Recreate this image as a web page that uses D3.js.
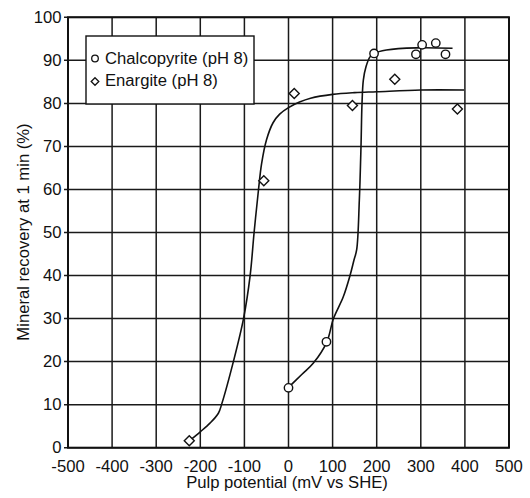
<!DOCTYPE html>
<html><head><meta charset="utf-8">
<script src="https://cdn.jsdelivr.net/npm/d3@7"></script>
<style>body{margin:0;background:#fff}svg{display:block}text{font-family:"Liberation Sans",Arial,Helvetica,sans-serif;fill:#111}</style>
</head><body><svg id="c" width="530" height="498"></svg>
<script>
const xTicks = [-500,-400,-300,-200,-100,0,100,200,300,400,500];
const yTicks = [0,10,20,30,40,50,60,70,80,90,100];
const chalcoX = [0, 86, 194, 289, 303, 334, 356];
const chalcoY = [13.9, 24.6, 91.6, 91.4, 93.6, 94.0, 91.4];
const enargX = [-225, -56, 13, 145, 241, 383];
const enargY = [1.6, 62.0, 82.3, 79.5, 85.6, 78.7];
const chalcoCurveX = [0, 30, 56, 87, 102, 124, 139.5, 148.5, 154.6, 160.6, 164.4, 166.7, 169.7, 175.7, 184.8, 194, 222, 290, 372];
const chalcoCurveY = [14, 17, 19.6, 24.6, 30, 35, 40, 43.6, 46, 57.5, 70, 80, 85.4, 88.5, 90.8, 91.6, 92.4, 92.9, 92.8];
const enargCurveX = [-225, -200, -178, -159, -151, -125, -102, -87, -78, -68, -61, -50, -35, -20, 0, 25, 50, 100, 150, 200, 300, 398];
const enargCurveY = [1.6, 3.7, 5.7, 8, 10.3, 20, 30, 40, 50, 60, 66, 71.5, 75.5, 77.5, 79, 80.3, 81.2, 82.1, 82.5, 82.7, 83.1, 83.1];
const legendLabels = ["Chalcopyrite (pH 8)", "Enargite (pH 8)"];
const xTitle = "Pulp potential (mV vs SHE)";
const yTitle = "Mineral recovery at 1 min (%)";

const svg = d3.select("#c");
const x = d3.scaleLinear().domain([-500,500]).range([68,509]);
const y = d3.scaleLinear().domain([0,100]).range([447.7,17.3]);
const stretch = 1.04;
function widen(sel){ sel.each(function(){ const l=this.getComputedTextLength(); d3.select(this).attr("textLength", l*stretch).attr("lengthAdjust","spacingAndGlyphs"); }); }

// grid
const g = svg.append("g").attr("stroke","#1a1a1a").attr("stroke-width",1.5);
g.selectAll(".vx").data(xTicks).join("line").attr("x1",d=>x(d)).attr("x2",d=>x(d)).attr("y1",y(0)).attr("y2",y(100));
g.selectAll(".hy").data(yTicks).join("line").attr("x1",x(-500)-4).attr("x2",x(500)).attr("y1",d=>y(d)).attr("y2",d=>y(d));
svg.append("rect").attr("x",x(-500)).attr("y",y(100)).attr("width",x(500)-x(-500)).attr("height",y(0)-y(100)).attr("fill","none").attr("stroke","#111").attr("stroke-width",2);

// axes labels
const fs = 16;
svg.append("g").selectAll("text").data(xTicks).join("text").attr("x",d=>x(d)).attr("y",471.5).attr("text-anchor","middle").attr("font-size",fs).text(d=>d).call(widen);
svg.append("g").selectAll("text").data(yTicks).join("text").attr("x",61.5).attr("y",d=>y(d)+5.7).attr("text-anchor","end").attr("font-size",fs).text(d=>d).call(widen);
svg.append("text").attr("x",287).attr("y",488).attr("text-anchor","middle").attr("font-size",fs).text(xTitle).call(widen);
svg.append("text").attr("transform","translate(28.5,232) rotate(-90)").attr("text-anchor","middle").attr("font-size",fs).text(yTitle).call(widen);

// curves
const line = d3.line().x(d=>x(d[0])).y(d=>y(d[1])).curve(d3.curveCatmullRom.alpha(0.5));
svg.append("path").attr("d",line(enargCurveX.map((v,i)=>[v,enargCurveY[i]]))).attr("fill","none").attr("stroke","#111").attr("stroke-width",1.6);
svg.append("path").attr("d",line(chalcoCurveX.map((v,i)=>[v,chalcoCurveY[i]]))).attr("fill","none").attr("stroke","#111").attr("stroke-width",1.6);

// points
const diamond = (cx,cy,r)=>`M${cx},${cy-r}L${cx+r},${cy}L${cx},${cy+r}L${cx-r},${cy}Z`;
svg.append("g").selectAll("path").data(enargX.map((v,i)=>[v,enargY[i]])).join("path").attr("d",d=>diamond(x(d[0]),y(d[1]),5)).attr("fill","#fff").attr("stroke","#111").attr("stroke-width",1.4);
svg.append("g").selectAll("circle").data(chalcoX.map((v,i)=>[v,chalcoY[i]])).join("circle").attr("cx",d=>x(d[0])).attr("cy",d=>y(d[1])).attr("r",4.2).attr("fill","#fff").attr("stroke","#111").attr("stroke-width",1.4);

// legend
const lg = svg.append("g");
lg.append("rect").attr("x",86).attr("y",36).attr("width",168).attr("height",68).attr("fill","#fff").attr("stroke","#111").attr("stroke-width",1.4);
lg.append("circle").attr("cx",95).attr("cy",58.5).attr("r",3.3).attr("fill","#fff").attr("stroke","#111").attr("stroke-width",1.3);
lg.append("path").attr("d",diamond(95,81.5,3.8)).attr("fill","#fff").attr("stroke","#111").attr("stroke-width",1.3);
lg.selectAll("text").data(legendLabels).join("text").attr("x",105).attr("y",(d,i)=>64.3+i*21.7).attr("font-size",fs).text(d=>d).call(widen);
</script></body></html>
